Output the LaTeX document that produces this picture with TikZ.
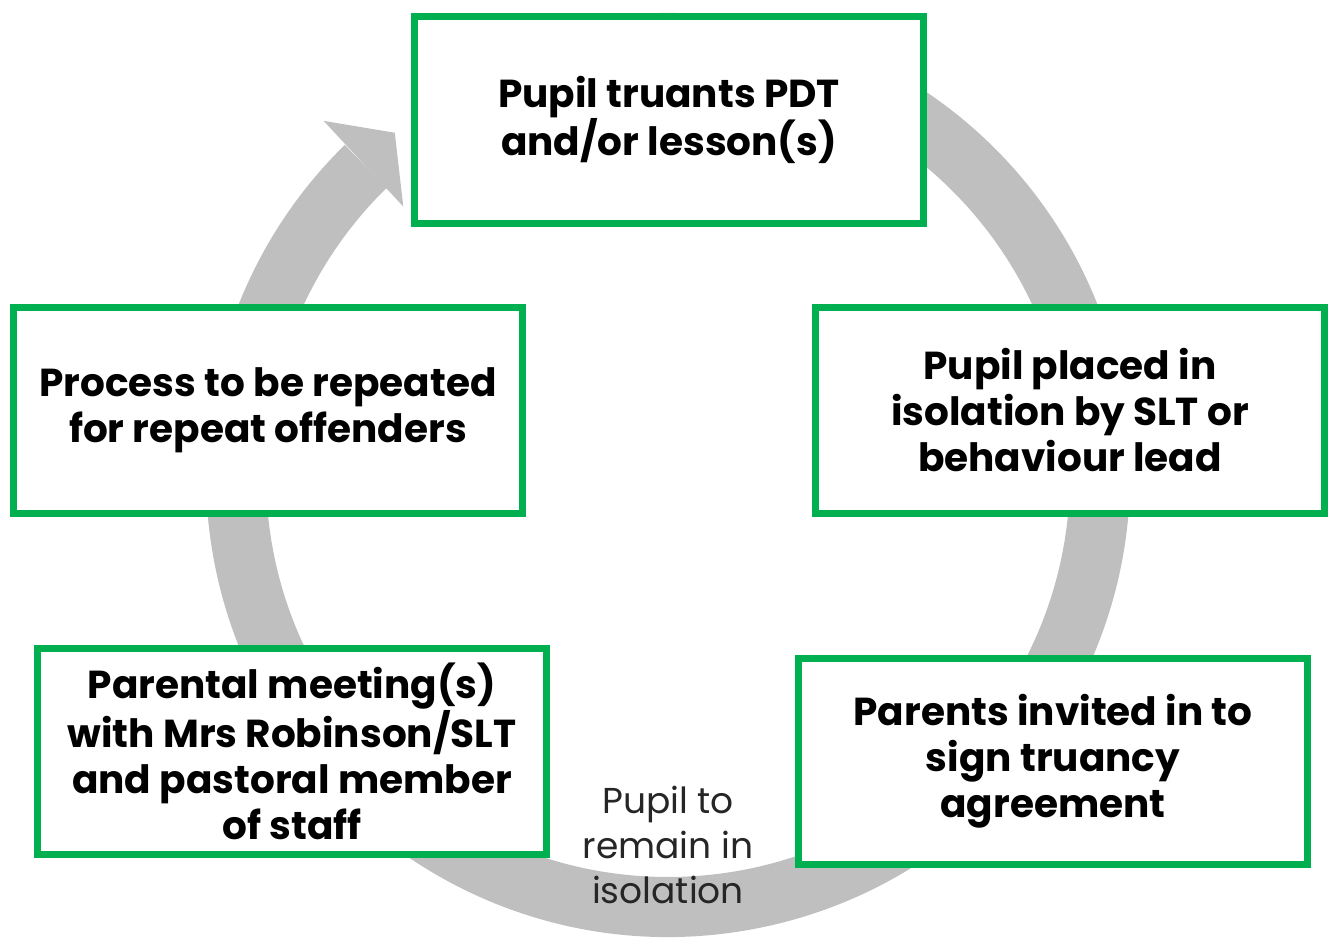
\documentclass[tikz,border=0pt]{standalone}
\usepackage{fontspec}
\setmainfont{Poppins}
\definecolor{boxgreen}{HTML}{00B050}
\definecolor{ringgray}{HTML}{BFBFBF}
\definecolor{labelgray}{HTML}{262626}
\begin{document}
\begin{tikzpicture}[x=1pt,y=-1pt,
  stepbox/.style={draw=boxgreen, line width=7pt, fill=white,
    minimum width=509pt, minimum height=206pt, align=center,
    font=\bfseries\fontsize{39}{46}\selectfont, inner sep=0pt},
  looplabel/.style={align=center, text=labelgray,
    font=\fontsize{36}{45}\selectfont, inner sep=0pt}]
\useasboundingbox (0,0) rectangle (1331,939);
% ring with arrowhead
\begin{scope}[shift={(668,475)}, y=1pt]
  \fill[ringgray] (100:462) arc[start angle=100, end angle=-225.6, radius=462]
    -- (134.4:402) arc[start angle=-225.6, end angle=100, radius=402] -- cycle;
  \fill[ringgray] (134.2:494) -- (128.6:438) -- (134.6:377) -- cycle;
\end{scope}
% boxes
\node[stepbox] (truant) at (669,120) {Pupil truants PDT\\and/or lesson(s)};
\node[stepbox] (isolation) at (1070,410) {Pupil placed in\\isolation by SLT or\\behaviour lead};
\node[stepbox] (parents) at (1053,761) {Parents invited in to\\sign truancy\\agreement};
\node[stepbox] (meeting) at (292,751) {Parental meeting(s)\\with Mrs Robinson/SLT\\and pastoral member\\of staff};
\node[stepbox] (repeat) at (268,410) {Process to be repeated\\for repeat offenders};
% label
\node[looplabel] (remain) at (668,845) {Pupil to\\remain in\\isolation};
\end{tikzpicture}
\end{document}
